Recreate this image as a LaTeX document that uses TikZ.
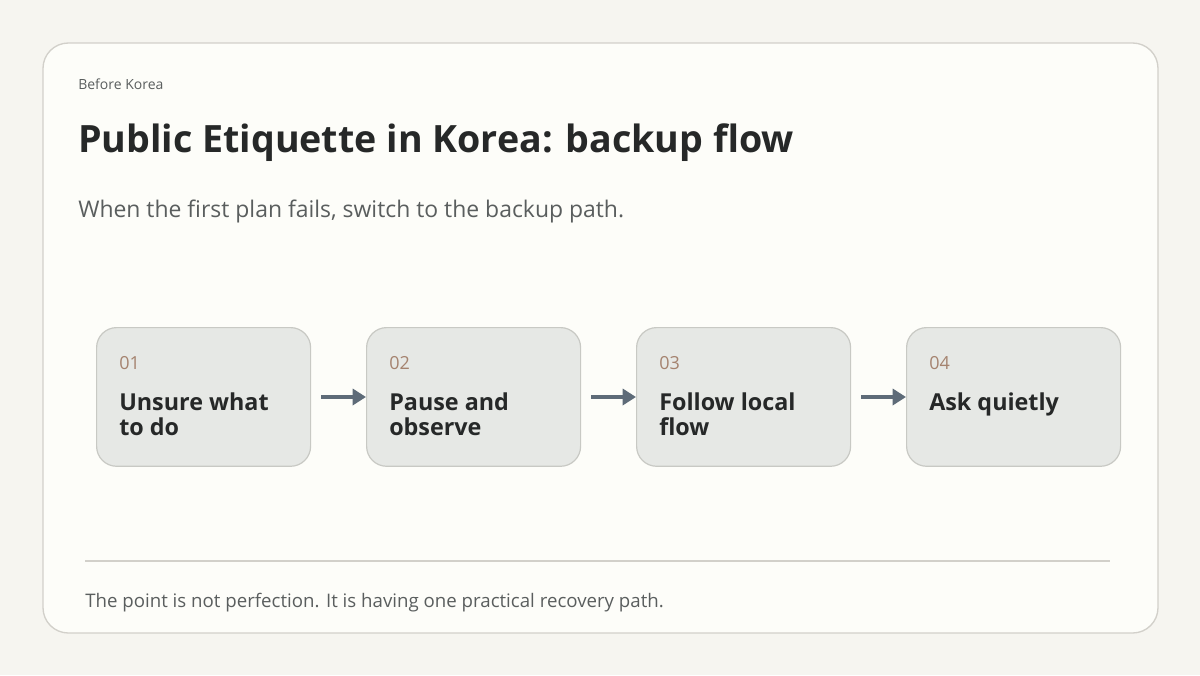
\documentclass[tikz,border=0pt]{standalone}
\usepackage{fontspec}
\setmainfont{Open Sans}
\usetikzlibrary{arrows.meta}
\definecolor{bg}{HTML}{F6F5F0}
\definecolor{card}{HTML}{FDFDF9}
\definecolor{cardline}{HTML}{D2D0CA}
\definecolor{boxfill}{HTML}{E6E8E5}
\definecolor{boxline}{HTML}{C8C9C4}
\definecolor{num}{HTML}{A5836F}
\definecolor{ink}{HTML}{262828}
\definecolor{sub}{HTML}{5A5E5E}
\definecolor{arr}{HTML}{5E6B78}
\tikzset{
 stepbox/.style={draw=boxline, line width=0.9pt, fill=boxfill, rounded corners=15pt, minimum width=160.5pt, minimum height=104pt, anchor=north west, inner sep=0pt},
 numtxt/.style={anchor=base west, text=num, font=\fontsize{13.5}{16}\selectfont, inner sep=0pt},
 boldtxt/.style={anchor=north west, text=ink, font=\fontsize{17.5}{18.75}\selectfont\bfseries, align=left, inner sep=0pt},
 flow/.style={draw=arr, line width=2.6pt, -{Triangle[length=10pt,width=12pt]}}
}
\begin{document}
\begin{tikzpicture}[x=0.75pt,y=-0.75pt]
\fill[bg] (0,0) rectangle (1200,675);
\useasboundingbox (0,0) rectangle (1200,675);
\draw[cardline, fill=card, line width=1pt, rounded corners=19pt] (43,43) rectangle (1158,633);
\node[anchor=base west, inner sep=0pt, text=sub, font=\fontsize{10.5}{12}\selectfont] (kick) at (78,89) {Before Korea};
\node[anchor=base west, inner sep=0pt, text=ink, font=\fontsize{28.2}{34}\selectfont\bfseries] (title) at (78,152) {Public Etiquette in Korea: backup flow};
\node[anchor=base west, inner sep=0pt, text=sub, font=\fontsize{17.2}{20}\selectfont] (subt) at (78,217) {When the first plan fails, switch to the backup path.};
\foreach \i/\x/\n/\t in {1/96/01/{Unsure what\\to do}, 2/366/02/{Pause and\\observe}, 3/636/03/{Follow local\\flow}, 4/906/04/{Ask quietly}}{
  \node[stepbox] (b\i) at (\x,327) {};
  \node[numtxt] (n\i) at (\x+23,369) {\n};
  \node[boldtxt] (t\i) at (\x+23,392) {\t};
}
\coordinate (a1) at (321,397);
\coordinate (a2) at (591,397);
\coordinate (a3) at (861,397);
\draw[flow] (a1) -- (b2.west |- a1);
\draw[flow] (a2) -- (b3.west |- a2);
\draw[flow] (a3) -- (b4.west |- a3);
\coordinate (l1) at (85,561);
\coordinate (l2) at (1110,561);
\draw[cardline, line width=1pt] (l1) -- (l2);
\node[anchor=base west, inner sep=0pt, text=sub, font=\fontsize{14}{16}\selectfont] (foot) at (85,607) {The point is not perfection. It is having one practical recovery path.};
\end{tikzpicture}
\end{document}
